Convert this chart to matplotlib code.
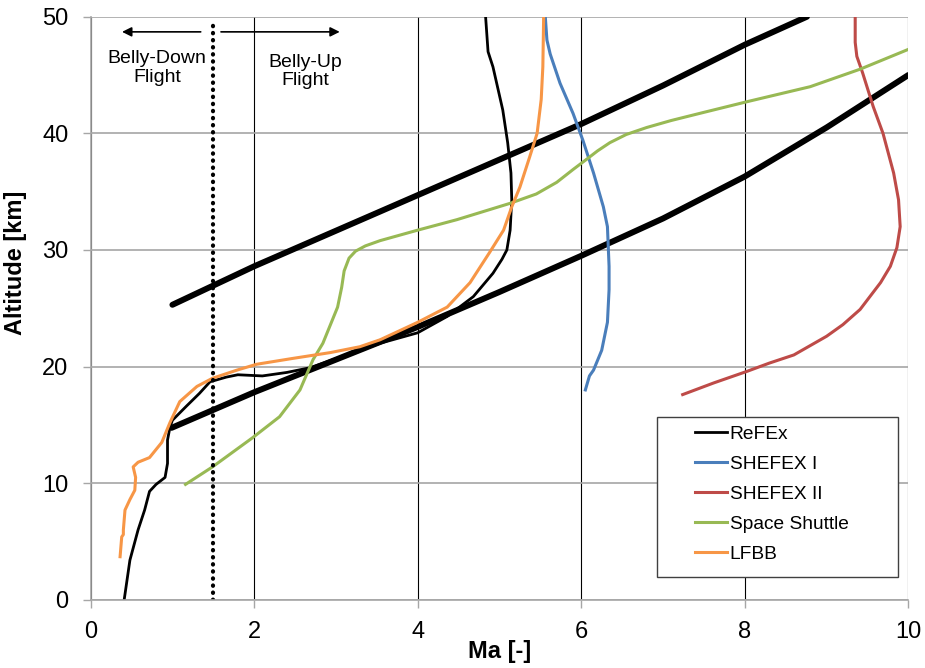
import matplotlib
matplotlib.use('Agg')
import matplotlib.pyplot as plt
from matplotlib.patches import Rectangle

plt.rcParams['font.family'] = ['Liberation Sans', 'DejaVu Sans']

# corridor boundaries (thick black)
upper_ma = [1.0, 2.0, 3.0, 4.0, 5.0, 6.0, 7.0, 8.0, 8.76]
upper_km = [25.3, 28.6, 31.65, 34.7, 37.75, 40.8, 44.1, 47.6, 50.0]
lower_ma = [0.99, 2.0, 3.0, 4.0, 5.0, 6.0, 7.0, 8.0, 9.0, 10.0]
lower_km = [14.75, 17.8, 20.6, 23.4, 26.4, 29.5, 32.7, 36.3, 40.5, 45.0]

refex_ma = [0.41, 0.48, 0.58, 0.66, 0.72, 0.80, 0.91, 0.94, 0.94, 0.97, 1.0, 1.17, 1.33,
            1.46, 1.66, 1.80, 2.1, 2.4, 2.68, 3.13, 3.54, 4.0, 4.36, 4.68, 4.92, 5.03,
            5.09, 5.13, 5.15, 5.14, 5.10, 5.04, 4.92, 4.86, 4.83]
refex_km = [0.0, 3.4, 6.0, 7.7, 9.3, 9.9, 10.5, 11.7, 13.7, 14.8, 15.4, 16.6, 17.7,
            18.7, 19.1, 19.3, 19.2, 19.5, 19.9, 21.0, 22.0, 22.9, 24.3, 26.0, 28.0, 29.2,
            30.0, 31.7, 34.3, 36.6, 39.2, 42.0, 45.7, 47.0, 50.0]

shefex1_ma = [6.05, 6.10, 6.15, 6.25, 6.32, 6.34, 6.34, 6.32, 6.27, 6.15, 6.02, 5.90,
              5.74, 5.62, 5.58, 5.56]
shefex1_km = [18.0, 19.2, 19.7, 21.4, 23.8, 26.6, 28.6, 32.0, 33.7, 36.6, 39.4, 41.7,
              44.3, 46.8, 48.0, 50.0]

shefex2_ma = [7.24, 7.62, 8.03, 8.3, 8.6, 9.0, 9.2, 9.41, 9.66, 9.78, 9.86, 9.9, 9.88,
              9.82, 9.69, 9.57, 9.44, 9.37, 9.35, 9.35]
shefex2_km = [17.6, 18.6, 19.6, 20.3, 21.0, 22.6, 23.6, 24.9, 27.2, 28.6, 30.2, 32.0, 34.3,
              36.6, 40.0, 42.3, 45.2, 46.6, 47.8, 50.0]

shuttle_ma = [1.16, 1.49, 1.98, 2.31, 2.56, 2.72, 2.84, 3.02, 3.07, 3.10, 3.16, 3.24,
              3.36, 3.54, 4.0, 4.48, 5.13, 5.45, 5.7, 5.9, 6.07, 6.2, 6.35, 6.55, 6.8,
              7.1, 7.5, 8.02, 8.8, 9.41, 10.0]
shuttle_km = [9.9, 11.4, 13.9, 15.7, 18.0, 20.6, 22.0, 25.1, 26.8, 28.2, 29.3, 29.9,
              30.35, 30.8, 31.7, 32.6, 34.0, 34.8, 35.8, 36.9, 37.8, 38.5, 39.2, 39.9, 40.5,
              41.1, 41.8, 42.7, 44.0, 45.5, 47.2]

lfbb_ma = [0.36, 0.38, 0.40, 0.40, 0.42, 0.48, 0.54, 0.55, 0.52, 0.58, 0.72, 0.87,
           0.97, 1.09, 1.30, 1.49, 1.79, 2.03, 2.47, 2.93, 3.29, 3.54, 4.0, 4.36, 4.64,
           4.88, 5.05, 5.15, 5.25, 5.37, 5.46, 5.51, 5.53, 5.54]
lfbb_km = [3.7, 5.4, 5.6, 6.0, 7.7, 8.6, 9.4, 10.5, 11.4, 11.8, 12.2, 13.5,
           15.2, 17.0, 18.3, 19.0, 19.7, 20.2, 20.7, 21.2, 21.7, 22.3, 23.8, 25.1, 27.2,
           29.8, 31.7, 33.7, 35.4, 38.0, 40.0, 42.9, 45.7, 50.0]

fig = plt.figure(figsize=(9.25, 6.68), dpi=100)
ax = fig.add_axes([0.098, 0.102, 0.884, 0.873])

ax.plot(upper_ma, upper_km, color='black', lw=4.3, solid_capstyle='round')
ax.plot(lower_ma, lower_km, color='black', lw=4.3, solid_capstyle='round')
ax.plot(refex_ma, refex_km, color='black', lw=2.0, label='ReFEx')
ax.plot(shefex1_ma, shefex1_km, color='#4a7ebb', lw=2.2, label='SHEFEX I')
ax.plot(shefex2_ma, shefex2_km, color='#be4b48', lw=2.2, label='SHEFEX II')
ax.plot(shuttle_ma, shuttle_km, color='#98b954', lw=2.2, label='Space Shuttle')
ax.plot(lfbb_ma, lfbb_km, color='#f79646', lw=2.2, label='LFBB')

# belly-down / belly-up border
ax.plot([1.5, 1.5], [0, 49.5], color='black', lw=3, linestyle=(0, (0.1, 1.6)),
        dash_capstyle='round')
ax.annotate('', xy=(0.35, 48.7), xytext=(1.38, 48.7),
            arrowprops=dict(arrowstyle='-|>', color='black', lw=1.2, mutation_scale=14))
ax.annotate('', xy=(3.08, 48.7), xytext=(1.56, 48.7),
            arrowprops=dict(arrowstyle='-|>', color='black', lw=1.2, mutation_scale=14))
ax.text(0.81, 45.6, 'Belly-Down\nFlight', ha='center', va='center', fontsize=14,
        linespacing=1.1)
ax.text(2.63, 45.3, 'Belly-Up\nFlight', ha='center', va='center', fontsize=14,
        linespacing=1.1)

ax.set_xlim(0, 10)
ax.set_ylim(0, 50)
ax.set_xticks(range(0, 11, 2))
ax.set_yticks(range(0, 51, 10))
ax.xaxis.grid(True, color='black', lw=0.8)
ax.yaxis.grid(True, color='#a6a6a6', lw=1.2)
ax.set_axisbelow(True)
for s in ['top', 'right']:
    ax.spines[s].set_visible(False)
for s in ['left', 'bottom']:
    ax.spines[s].set_color('#a6a6a6')
    ax.spines[s].set_linewidth(1.2)
ax.tick_params(axis='both', color='#a6a6a6', length=6, width=1, labelsize=17)
ax.tick_params(axis='x', pad=9)
ax.tick_params(axis='y', pad=10)
ax.set_xlabel('Ma [-]', fontsize=17, fontweight='bold')
ax.set_ylabel('Altitude [km]', fontsize=17, fontweight='bold')
ax.xaxis.set_label_coords(0.5, -0.069)
ax.yaxis.set_label_coords(-0.078, 0.578)

# legend box drawn by hand, legend itself without frame
ax.add_patch(Rectangle((0.693, 0.039), 0.294, 0.275, transform=ax.transAxes,
                       facecolor='white', edgecolor='#404040', lw=1.0, zorder=4))
leg = ax.legend(loc='upper left', bbox_to_anchor=(0.739, 0.299), fontsize=13.8,
                frameon=False, handlelength=1.67, handletextpad=0.15,
                labelspacing=0.66, borderpad=0, borderaxespad=0)
leg.set_zorder(5)

fig.savefig('out.png', dpi=100)
